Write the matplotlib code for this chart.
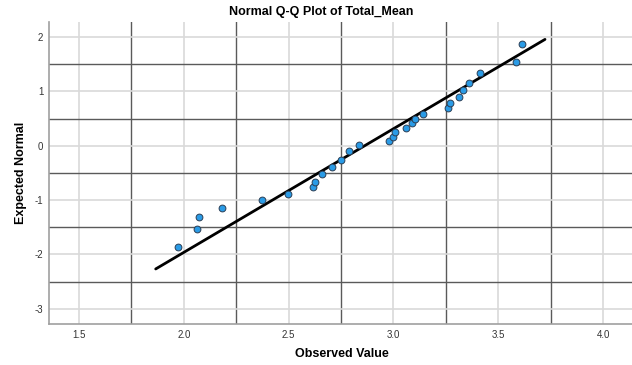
import matplotlib
matplotlib.use("Agg")
import matplotlib.pyplot as plt
from matplotlib.ticker import MultipleLocator

plt.rcParams["font.family"] = ["Liberation Sans", "DejaVu Sans"]

# Observed values and their expected normal scores
observed = [1.974, 2.063, 2.074, 2.184, 2.375, 2.497, 2.618, 2.627, 2.658, 2.708,
            2.749, 2.788, 2.837, 2.979, 3.000, 3.009, 3.060, 3.090, 3.102, 3.141,
            3.262, 3.271, 3.312, 3.332, 3.361, 3.412, 3.584, 3.614]
expected = [-1.857, -1.531, -1.305, -1.140, -1.004, -0.882, -0.765, -0.667, -0.526, -0.392,
            -0.268, -0.103, 0.007, 0.086, 0.165, 0.246, 0.331, 0.412, 0.491, 0.588,
            0.688, 0.790, 0.895, 1.018, 1.158, 1.331, 1.544, 1.875]

# Reference line of the fitted normal distribution
ref_mean = 2.863
ref_sd = 0.440
ref_x = [1.866, 3.723]
ref_y = [(v - ref_mean) / ref_sd for v in ref_x]

x_ticks = [1.5, 2.0, 2.5, 3.0, 3.5, 4.0]
y_ticks = [-3, -2, -1, 0, 1, 2]

fig = plt.figure(figsize=(6.32, 3.65), dpi=100)
ax = fig.add_axes([0.0775, 0.1123, 0.9225, 0.8274])

ax.set_xlim(1.357, 4.138)
ax.set_ylim(-3.278, 2.274)

ax.set_xticks(x_ticks)
ax.set_xticklabels([f"{v:.1f}" for v in x_ticks])
ax.set_yticks(y_ticks)
ax.set_yticklabels([str(v) for v in y_ticks])
ax.xaxis.set_minor_locator(MultipleLocator(0.5, offset=0.25))
ax.yaxis.set_minor_locator(MultipleLocator(1.0, offset=0.5))

ax.grid(which="major", color="#d9d9d9", linewidth=1.2, zorder=0)
ax.grid(which="minor", color="#5a5a5a", linewidth=1.0, zorder=0)
ax.set_axisbelow(True)

ax.tick_params(which="both", length=0, labelsize=7, labelcolor="#333333")
ax.tick_params(axis="x", pad=4)
ax.tick_params(axis="y", pad=4)

for side in ("top", "right"):
    ax.spines[side].set_visible(False)
for side in ("left", "bottom"):
    ax.spines[side].set_color("#a0a0a0")
    ax.spines[side].set_linewidth(1.2)

ax.plot(ref_x, ref_y, color="black", linewidth=2.0, solid_capstyle="round", zorder=2)
ax.scatter(observed, expected, s=24, facecolor="#2a9be6", edgecolor="#2b3f55",
           linewidth=0.7, zorder=3)

ax.set_title("Normal Q-Q Plot of Total_Mean", fontsize=9, fontweight="bold",
             x=0.467, pad=5)
ax.set_xlabel("Observed Value", fontsize=9, fontweight="bold", va="center")
ax.set_ylabel("Expected Normal", fontsize=9, fontweight="bold", va="center")
ax.xaxis.set_label_coords(0.503, -0.099)
ax.yaxis.set_label_coords(-0.048, 0.502)

fig.savefig("out.png", dpi=100)
